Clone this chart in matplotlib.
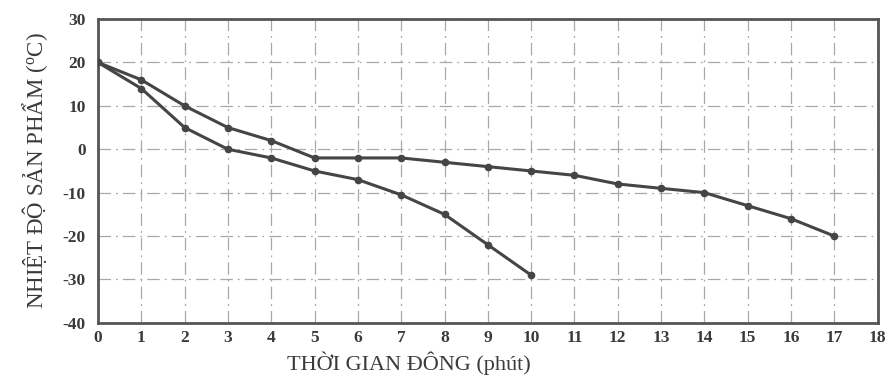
import matplotlib
matplotlib.use("Agg")
import matplotlib.pyplot as plt
from matplotlib.ticker import FixedLocator, FuncFormatter

# Freezing time (minutes) and product temperature (°C) for the two runs
time_slow = [0, 1, 2, 3, 4, 5, 6, 7, 8, 9, 10, 11, 12, 13, 14, 15, 16, 17]
temp_slow = [20, 16, 10, 5, 2, -2, -2, -2, -3, -4, -5, -6, -8, -9, -10, -13, -16, -20]

time_fast = [0, 1, 2, 3, 4, 5, 6, 7, 8, 9, 10]
temp_fast = [20, 14, 5, 0, -2, -5, -7, -10.5, -15, -22, -29]

x_ticks = list(range(0, 19))
y_ticks = [-40, -30, -20, -10, 0, 10, 20, 30]

x_label = "THỜI GIAN ĐÔNG (phút)"
y_label = "NHIỆT ĐỘ SẢN PHẨM ($^{o}$C)"

plt.rcParams["font.family"] = ["Liberation Serif", "DejaVu Serif"]
plt.rcParams["mathtext.fontset"] = "custom"
plt.rcParams["mathtext.rm"] = "Liberation Serif"
plt.rcParams["mathtext.it"] = "Liberation Serif"

fig = plt.figure(figsize=(8.91, 3.89), dpi=100)
ax = fig.add_axes([0.110, 0.170, 0.875, 0.781])

line_color = "#454545"
for xs, ys in ((time_slow, temp_slow), (time_fast, temp_fast)):
    ax.plot(xs, ys, color=line_color, lw=2.2, marker="o", ms=4.5,
            markerfacecolor=line_color, markeredgecolor=line_color, zorder=3)

ax.set_xlim(0, 18)
ax.set_ylim(-40, 30)
ax.xaxis.set_major_locator(FixedLocator(x_ticks))
ax.yaxis.set_major_locator(FixedLocator(y_ticks))
ax.yaxis.set_major_formatter(FuncFormatter(lambda v, p: f"{int(v)}".replace("\u2212", "-")))

ax.grid(True, color="#a8a8a8", lw=0.9, linestyle=(0, (10, 4, 1.5, 4)))
ax.set_axisbelow(True)

for s in ax.spines.values():
    s.set_color("#555555")
    s.set_linewidth(2.0)

ax.tick_params(axis="both", length=0, labelsize=12.5, colors="#3a3a3a")
ax.tick_params(axis="x", pad=5)
ax.tick_params(axis="y", pad=9)
for lab in ax.get_xticklabels() + ax.get_yticklabels():
    lab.set_fontweight("bold")

ax.set_xlabel(x_label, fontsize=16, color="#3a3a3a")
ax.xaxis.set_label_coords(0.399, -0.095)
ax.set_ylabel(y_label, fontsize=16.5, color="#3a3a3a", labelpad=9)

fig.savefig("out.png", dpi=100, facecolor="white")
